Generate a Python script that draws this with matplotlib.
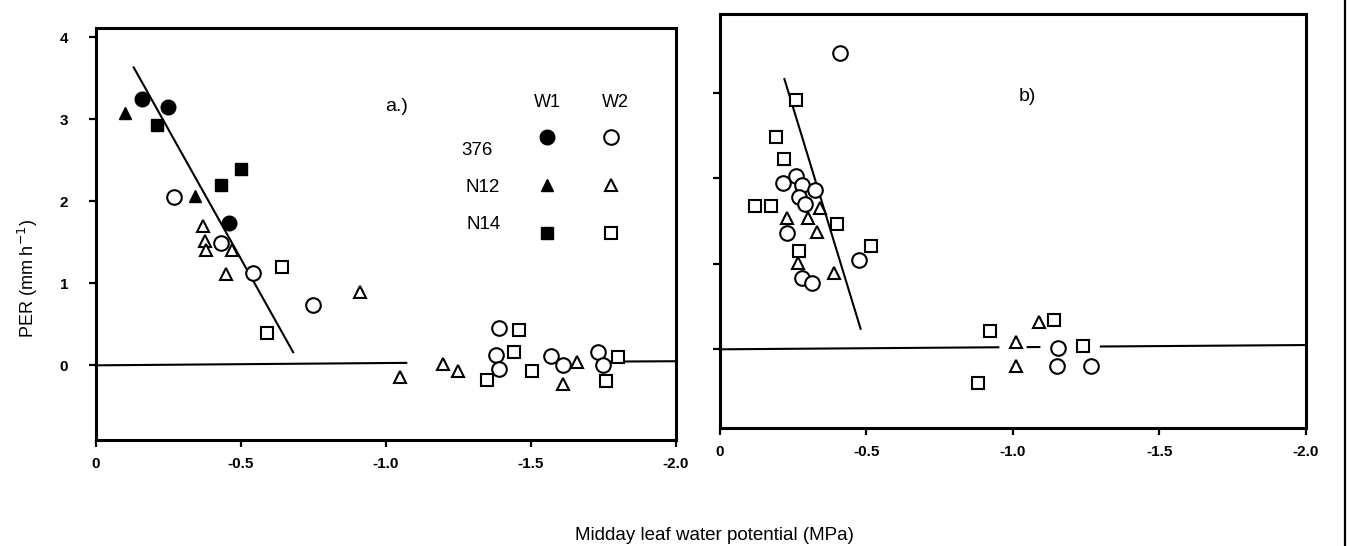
import matplotlib
matplotlib.use("Agg")
import matplotlib.pyplot as plt
from matplotlib.lines import Line2D

plt.rcParams["font.family"] = ["Liberation Sans", "DejaVu Sans"]

# ---- panel a data (PER vs midday leaf water potential) ----
a_376_w1_x = [-0.16, -0.25, -0.46]
a_376_w1_y = [3.24, 3.15, 1.74]
a_n12_w1_x = [-0.10, -0.34]
a_n12_w1_y = [3.07, 2.06]
a_n14_w1_x = [-0.21, -0.43, -0.50]
a_n14_w1_y = [2.93, 2.20, 2.39]

a_376_w2_x = [-0.27, -0.43, -0.54, -0.75, -1.39, -1.38, -1.39, -1.57, -1.61, -1.73, -1.75]
a_376_w2_y = [2.05, 1.49, 1.13, 0.74, 0.45, 0.12, -0.04, 0.11, 0.00, 0.16, 0.00]
a_n12_w2_x = [-0.37, -0.375, -0.38, -0.47, -0.45, -0.91, -1.05, -1.195, -1.25, -1.61, -1.66]
a_n12_w2_y = [1.70, 1.52, 1.40, 1.40, 1.11, 0.89, -0.14, 0.02, -0.07, -0.23, 0.04]
a_n14_w2_x = [-0.64, -0.59, -1.46, -1.44, -1.35, -1.505, -1.80, -1.76]
a_n14_w2_y = [1.20, 0.39, 0.43, 0.16, -0.18, -0.07, 0.10, -0.19]

a_fit_steep_x = [-0.13, -0.68]
a_fit_steep_y = [3.63, 0.16]
a_fit_flat_x = [[0.0, -1.07], [-1.73, -2.0]]
a_fit_flat_y = [[0.0, 0.03], [0.045, 0.05]]

# ---- panel b data ----
b_376_w2_x = [-0.41, -0.26, -0.215, -0.28, -0.325, -0.27, -0.29, -0.23, -0.475,
              -0.28, -0.315, -1.155, -1.15, -1.265]
b_376_w2_y = [3.46, 2.03, 1.95, 1.92, 1.86, 1.78, 1.70, 1.36, 1.05,
              0.83, 0.78, 0.01, -0.20, -0.20]
b_n12_w2_x = [-0.34, -0.23, -0.30, -0.33, -0.265, -0.39, -1.09, -1.01, -1.01]
b_n12_w2_y = [1.65, 1.54, 1.53, 1.37, 1.01, 0.89, 0.32, 0.09, -0.19]
b_n14_w2_x = [-0.26, -0.19, -0.22, -0.12, -0.175, -0.40, -0.515, -0.27,
              -1.14, -0.92, -1.24, -0.88]
b_n14_w2_y = [2.92, 2.48, 2.23, 1.68, 1.68, 1.47, 1.21, 1.15,
              0.34, 0.22, 0.04, -0.39]

b_fit_steep_x = [-0.22, -0.48]
b_fit_steep_y = [3.16, 0.24]
b_fit_flat_x = [[0.0, -0.95], [-1.05, -1.09], [-1.30, -2.0]]
b_fit_flat_y = [[0.0, 0.024], [0.026, 0.027], [0.033, 0.05]]

x_ticks = [0, -0.5, -1.0, -1.5, -2.0]
x_tick_labels = ["0", "-0.5", "-1.0", "-1.5", "-2.0"]
a_y_ticks = [0, 1, 2, 3, 4]
b_y_ticks = [0, 1, 2, 3]

genotypes = ["376", "N12", "N14"]
genotype_markers = ["o", "^", "s"]
marker_sizes = {"o": 10.5, "^": 8.5, "s": 8.5}

fig = plt.figure(figsize=(13.5, 5.46), dpi=100, facecolor="white")
ax_a = fig.add_axes([0.0711, 0.1941, 0.4296, 0.7546])
ax_b = fig.add_axes([0.5333, 0.2161, 0.4341, 0.7582])


def style_axis(ax, yticks, ylim, show_ylabels):
    ax.set_xlim(0.0, -2.0)
    ax.set_ylim(*ylim)
    ax.set_xticks(x_ticks)
    ax.set_xticklabels(x_tick_labels, fontsize=11, fontweight="bold")
    ax.set_yticks(yticks)
    if show_ylabels:
        ax.set_yticklabels([str(t) for t in yticks], fontsize=11, fontweight="bold")
    else:
        ax.set_yticklabels([])
    ax.tick_params(axis="both", direction="out", length=5, width=1.6)
    ax.tick_params(axis="y", pad=15)
    ax.tick_params(axis="x", pad=7)
    for s in ax.spines.values():
        s.set_linewidth(2.2)


def open_pts(ax, x, y, m):
    ax.plot(x, y, linestyle="none", marker=m, markersize=marker_sizes[m],
            markerfacecolor="white", markeredgecolor="black", markeredgewidth=1.5)


def filled_pts(ax, x, y, m):
    ax.plot(x, y, linestyle="none", marker=m, markersize=marker_sizes[m],
            markerfacecolor="black", markeredgecolor="black", markeredgewidth=1.0)


# panel a
style_axis(ax_a, a_y_ticks, (-0.91, 4.11), True)
ax_a.plot(a_fit_steep_x, a_fit_steep_y, color="black", linewidth=1.5)
for xs, ys in zip(a_fit_flat_x, a_fit_flat_y):
    ax_a.plot(xs, ys, color="black", linewidth=1.5)

filled_pts(ax_a, a_376_w1_x, a_376_w1_y, "o")
filled_pts(ax_a, a_n12_w1_x, a_n12_w1_y, "^")
filled_pts(ax_a, a_n14_w1_x, a_n14_w1_y, "s")
open_pts(ax_a, a_376_w2_x, a_376_w2_y, "o")
open_pts(ax_a, a_n12_w2_x, a_n12_w2_y, "^")
open_pts(ax_a, a_n14_w2_x, a_n14_w2_y, "s")

# hand-drawn style key inside panel a
ax_a.text(-1.035, 3.15, "a.)", fontsize=14, ha="center", va="center")
ax_a.text(-1.557, 3.20, "W1", fontsize=13, ha="center", va="center")
ax_a.text(-1.79, 3.20, "W2", fontsize=13, ha="center", va="center")
key_label_pos = [(-1.313, 2.62), (-1.334, 2.17), (-1.337, 1.71)]
key_rows = [2.78, 2.20, 1.61]
for name, m, (lx, ly), ry in zip(genotypes, genotype_markers, key_label_pos, key_rows):
    ax_a.text(lx, ly, name, fontsize=13.5, ha="center", va="center")
    ax_a.add_line(Line2D([-1.557], [ry], linestyle="none", marker=m,
                         markersize=marker_sizes[m], color="black"))
    ax_a.add_line(Line2D([-1.775], [ry], linestyle="none", marker=m,
                         markersize=marker_sizes[m], markerfacecolor="white",
                         markeredgecolor="black", markeredgewidth=1.5))

# panel b
style_axis(ax_b, b_y_ticks, (-0.92, 3.92), False)
ax_b.plot(b_fit_steep_x, b_fit_steep_y, color="black", linewidth=1.5)
for xs, ys in zip(b_fit_flat_x, b_fit_flat_y):
    ax_b.plot(xs, ys, color="black", linewidth=1.5)

open_pts(ax_b, b_376_w2_x, b_376_w2_y, "o")
open_pts(ax_b, b_n12_w2_x, b_n12_w2_y, "^")
open_pts(ax_b, b_n14_w2_x, b_n14_w2_y, "s")
ax_b.text(-1.05, 2.95, "b)", fontsize=14, ha="center", va="center")

# shared axis labels
fig.text(0.021, 0.49, "PER (mm h$^{-1}$)", rotation=90, fontsize=13,
         ha="center", va="center")
fig.text(0.529, 0.02, "Midday leaf water potential (MPa)", fontsize=13.5,
         ha="center", va="center")

# page edge visible in the scan
fig.add_artist(Line2D([0.9963, 0.9963], [0.0, 1.0], transform=fig.transFigure,
                      color="black", linewidth=1.6))

fig.savefig("out.png", dpi=100, facecolor="white")
